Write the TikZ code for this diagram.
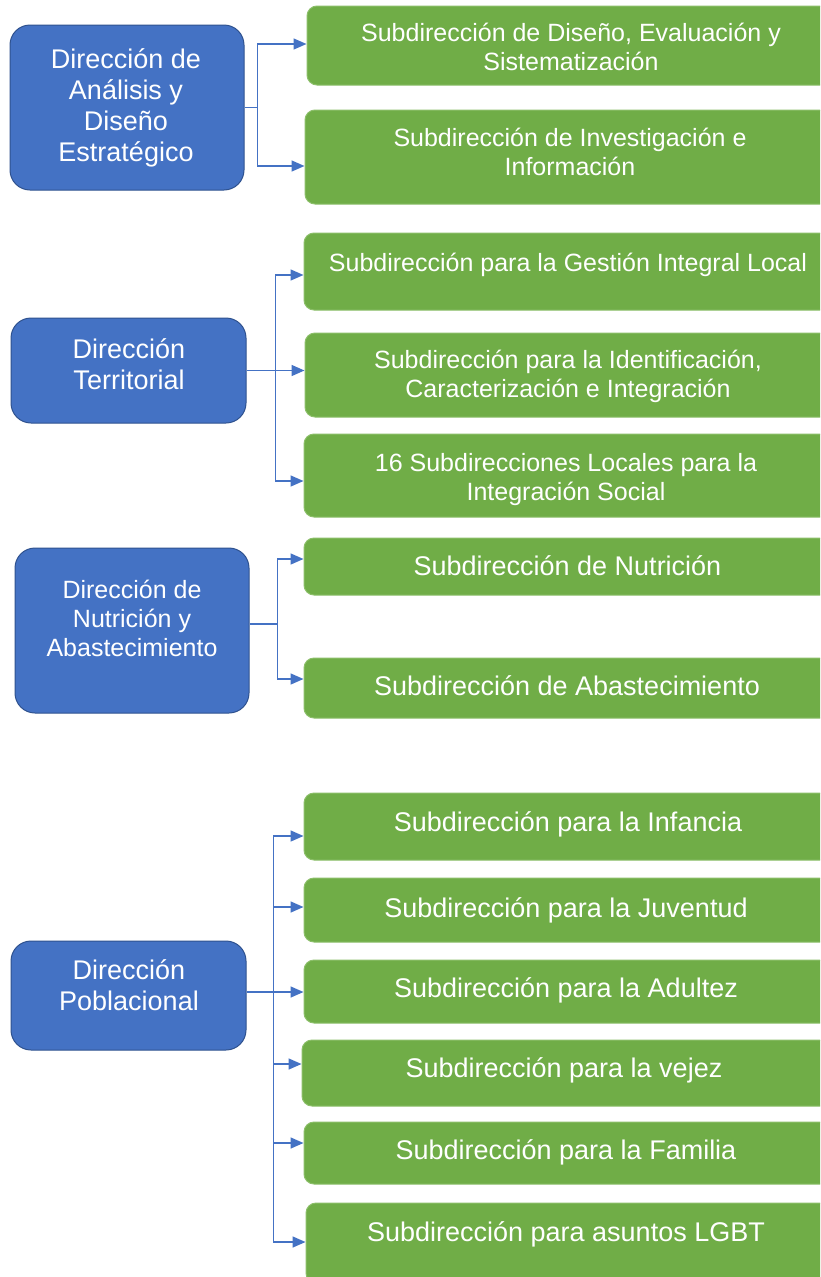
\documentclass[tikz,border=0pt]{standalone}
\usepackage{fontspec}
\setmainfont{Liberation Sans}
\usetikzlibrary{arrows.meta,calc}
\definecolor{dblue}{HTML}{4472C4}
\definecolor{dblueb}{HTML}{2F528F}
\definecolor{sgreen}{HTML}{70AD47}
\definecolor{sgreenb}{HTML}{8CBF6A}
\tikzset{
  dirbox/.style={draw=dblueb, line width=1pt, fill=dblue, rounded corners=20pt, inner sep=0pt},
  subbox/.style={draw=sgreenb, line width=1pt, fill=sgreen, rounded corners=10pt, inner sep=0pt},
  dirtext/.style={text=white, align=center, font=\fontsize{27}{31}\selectfont, inner sep=0pt, anchor=base},
  subtext/.style={text=white, align=center, font=\fontsize{25}{29}\selectfont, inner sep=0pt, anchor=base},
  subtextL/.style={text=white, align=center, font=\fontsize{27}{29}\selectfont, inner sep=0pt, anchor=base},
  conn/.style={draw=dblue, line width=1.5pt},
  arr/.style={conn, -{Triangle[length=13pt,width=11pt]}}
}
\begin{document}
\begin{tikzpicture}[x=1pt,y=-1pt]
\clip (0,0) rectangle (820,1277);
\fill[white] (0,0) rectangle (820,1277);
% directions
\node[dirbox, minimum width=234pt, minimum height=165pt] (b1) at (127,107.5) {};
\node[dirtext] (t1) at (126,161) {Dirección de\\Análisis y\\Diseño\\Estratégico};
\node[dirbox, minimum width=235pt, minimum height=105pt] (b2) at (128.5,370.5) {};
\node[dirtext] (t2) at (129,389) {Dirección\\Territorial};
\node[dirbox, minimum width=234pt, minimum height=165pt] (b3) at (132,630.5) {};
\node[dirtext, font=\fontsize{25}{29}\selectfont] (t3) at (132,656.5) {Dirección de\\Nutrición y\\Abastecimiento};
\node[dirbox, minimum width=235pt, minimum height=109pt] (b4) at (128.5,995.5) {};
\node[dirtext] (t4) at (129,1010) {Dirección\\Poblacional};
% subdirections
\node[subbox, minimum width=528pt, minimum height=79pt] (g1) at (571,45.5) {};
\node[subtext] (s1) at (571,70.5) {Subdirección de Diseño, Evaluación y\\Sistematización};
\node[subbox, minimum width=530pt, minimum height=94pt] (g2) at (570,157) {};
\node[subtext] (s2) at (570,175.5) {Subdirección de Investigación e\\Información};
\node[subbox, minimum width=531pt, minimum height=77pt] (g3) at (569.5,271.5) {};
\node[subtext] (s3) at (568,271) {Subdirección para la Gestión Integral Local};
\node[subbox, minimum width=530pt, minimum height=84pt] (g4) at (570,375) {};
\node[subtext] (s4) at (568,397.5) {Subdirección para la Identificación,\\Caracterización e Integración};
\node[subbox, minimum width=531pt, minimum height=83pt] (g5) at (569.5,475.5) {};
\node[subtext] (s5) at (566,500.5) {16 Subdirecciones Locales para la\\Integración Social};
\node[subbox, minimum width=531pt, minimum height=57pt] (g6) at (569.5,566.5) {};
\node[subtextL] (s6) at (567.5,575) {Subdirección de Nutrición};
\node[subbox, minimum width=531pt, minimum height=60pt] (g7) at (569.5,688) {};
\node[subtextL] (s7) at (567,695) {Subdirección de Abastecimiento};
\node[subbox, minimum width=531pt, minimum height=67pt] (g8) at (569.5,826.5) {};
\node[subtextL] (s8) at (568,831) {Subdirección para la Infancia};
\node[subbox, minimum width=531pt, minimum height=64pt] (g9) at (569.5,910) {};
\node[subtextL] (s9) at (566,917) {Subdirección para la Juventud};
\node[subbox, minimum width=531pt, minimum height=63pt] (g10) at (569.5,991.5) {};
\node[subtextL] (s10) at (566,997) {Subdirección para la Adultez};
\node[subbox, minimum width=533pt, minimum height=66pt] (g11) at (568.5,1073) {};
\node[subtextL] (s11) at (564,1077) {Subdirección para la vejez};
\node[subbox, minimum width=531pt, minimum height=62pt] (g12) at (569.5,1153) {};
\node[subtextL] (s12) at (566,1159) {Subdirección para la Familia};
\node[subbox, minimum width=529pt, minimum height=80pt] (g13) at (570.5,1243) {};
\node[subtextL] (s13) at (566,1241) {Subdirección para asuntos LGBT};
% connectors group 1
\draw[conn] (b1.east) -- ++(13,0) coordinate (j1);
\draw[arr] (j1) |- ([yshift=1.5]g1.west);
\draw[arr] (j1) |- ([yshift=-9]g2.west);
% group 2
\draw[conn] (b2.east) -- ++(29,0) coordinate (j2);
\draw[arr] (j2) |- ([yshift=-3.5]g3.west);
\draw[arr] (j2) -- (j2 -| g4.west);
\draw[arr] (j2) |- ([yshift=-5.5]g5.west);
% group 3
\draw[conn] ([yshift=6.5]b3.east) -- ++(28,0) coordinate (j3);
\draw[arr] (j3) |- ([yshift=7.5]g6.west);
\draw[arr] (j3) |- ([yshift=9]g7.west);
% group 4
\draw[conn] ([yshift=3.5]b4.east) -- ++(27,0) coordinate (j4);
\draw[arr] (j4) |- ([yshift=-9.5]g8.west);
\draw[arr] (j4) |- ([yshift=3]g9.west);
\draw[arr] (j4) -- (j4 -| g10.west);
\draw[arr] (j4) |- ([yshift=9]g11.west);
\draw[arr] (j4) |- ([yshift=10]g12.west);
\draw[arr] (j4) |- ([yshift=1]g13.west);
\end{tikzpicture}
\end{document}
